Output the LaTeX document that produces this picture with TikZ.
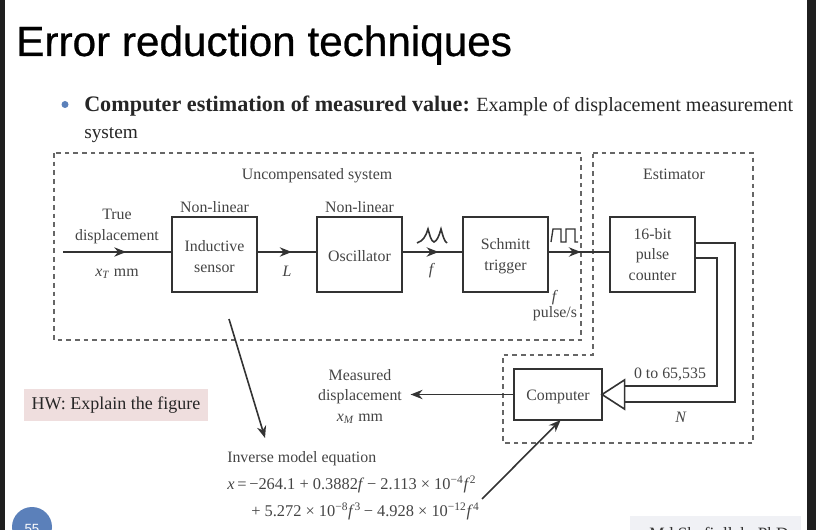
\documentclass[tikz,border=0pt]{standalone}
\usepackage{fontspec}
\setmainfont{Liberation Serif}
\newfontfamily\headfont{Liberation Sans}
\newfontfamily\titlefont[FakeBold=0.6]{Liberation Sans}
\usetikzlibrary{positioning,arrows.meta,shapes.geometric,decorations.markings}

\definecolor{inkgrey}{HTML}{333333}
\definecolor{textgrey}{HTML}{444444}
\definecolor{hwpink}{HTML}{EFDEDE}
\definecolor{slideblue}{HTML}{5B80BA}
\definecolor{footgrey}{HTML}{F0F1F5}

\newcommand{\boxstrut}{\rule{0pt}{11pt}}

\begin{document}
\begin{tikzpicture}[
		x=0.75pt,
		y=-0.75pt,
		>={Stealth[length=9pt,width=7pt]},
		every node/.style={
			font=\fontsize{11.9pt}{15.4pt}\selectfont,
			align=center,
			text=textgrey
		},
		blockbox/.style={
			draw=inkgrey,
			line width=1.4pt,
			minimum width=63.75pt,
			minimum height=56.25pt,
			inner sep=0pt,
			outer sep=0pt
		},
		flow/.style={
			draw=inkgrey,
			line width=1.2pt,
			postaction={decorate},
			decoration={markings,mark=at position #1 with {\arrow{>}}}
		},
		wire/.style={draw=inkgrey,line width=1.2pt},
		frame/.style={draw=inkgrey!75,line width=0.85pt,dash pattern=on 3.5pt off 3pt}
		]
		
		\useasboundingbox (0,0) rectangle (816,530);
		
		%--------------------------------------------------
		% Slide
		%--------------------------------------------------
		
		\fill[black!88] (0,0) rectangle (5,530);
		\fill[black!88] (807,0) rectangle (816,530);
		
		\node (title) [anchor=base west,inner sep=0pt,text=black] at (16,56)
		{\titlefont\fontsize{31.7pt}{36pt}\selectfont Error reduction techniques};
		\fill[slideblue] (65,104.5) circle (3.5);
		\node (boldline) [anchor=base west,inner sep=0pt,text=black!85] at (84,112)
		{\fontsize{16.6pt}{18pt}\selectfont\textbf{Computer estimation of measured value:}};
		\node (restline) [anchor=base west,inner sep=0pt,text=black!85] at (476,112)
		{\fontsize{15.1pt}{18pt}\selectfont Example of displacement measurement};
		\node (linetwo) [anchor=base west,inner sep=0pt,text=black!85] at (84,138.5)
		{\fontsize{14.5pt}{18pt}\selectfont system};
		
		\node (hw) [fill=hwpink,minimum width=138pt,minimum height=24pt,inner sep=0pt,text=black!85] at (116,405)
		{\fontsize{13.5pt}{16pt}\selectfont HW: Explain the figure};
		
		\begin{scope}
			\clip (0,0) rectangle (816,530);
			\fill[slideblue] (32,527) circle (20);
			\node (pageno) [text=white] at (32,529) {\headfont\fontsize{10pt}{12pt}\selectfont 55};
			\fill[footgrey] (630,516) rectangle (801,535);
			\node (footer) [anchor=base,text=black!80] at (719,539.5) {\fontsize{13pt}{15pt}\selectfont Md Shafiullah, PhD};
		\end{scope}
		
		%--------------------------------------------------
		% Dashed frames
		%--------------------------------------------------
		
		\draw[frame] (54,153) rectangle (581,340);
		\draw[frame] (593,153) -- (753,153) -- (753,443) -- (503,443) -- (503,355) -- (593,355) -- cycle;
		
		\node (uncomp) at (317,175.5) {Uncompensated system};
		\node (estim) at (674,174) {Estimator};
		
		%--------------------------------------------------
		% Blocks
		%--------------------------------------------------
		
		\node (sensor) [blockbox] at (214.5,254.5) {\boxstrut Inductive\\sensor};
		\node (osc) [blockbox,right=45pt of sensor] {\boxstrut Oscillator};
		\node (schmitt) [blockbox,right=45.75pt of osc] {\boxstrut Schmitt\\trigger};
		\node (counter) [blockbox,right=46.5pt of schmitt] {16-bit\\pulse\\counter};
		\node (computer) [blockbox,minimum width=66pt,minimum height=38.25pt] at (558,394.5) {\boxstrut Computer};
		\node (buffer) [draw=inkgrey,line width=1.2pt,isosceles triangle,isosceles triangle stretches,
			shape border rotate=180,minimum width=22pt,minimum height=17pt,inner sep=0pt,outer sep=0pt,anchor=apex]
			at (computer.east) {};
		
		\node (truein) at (117,226.5) {True\\displacement};
		\node (nlone) [above=0pt of sensor] {Non-linear};
		\node (nltwo) [above=0pt of osc] {Non-linear};
		\node (xtrue) at (117,274) {\textit{x}\textsubscript{\textit{T}} mm};
		\node (labell) at (287,271) {\textit{L}};
		\node (labelf) at (432,271) {\textit{f}};
		\node (pulses) at (555,305.5) {\textit{f}\\[-3pt]pulse/s};
		\node (busrange) at (670,374) {0 to 65,535};
		\node (busn) at (681,417) {\textit{N}};
		\node (measured) at (360,396.5) {Measured\\displacement\\\textit{x}\textsubscript{\textit{M}} mm};
		\node (model) [anchor=north west,inner sep=0pt,align=left] at (227,451)
		{Inverse model equation\\[5pt]
			\fontsize{12.3pt}{15.4pt}\selectfont\textit{x}\,=\,−264.1 + 0.3882\textit{f}\,− 2.113 × 10\textsuperscript{−4}\textit{f}\textsuperscript{2}\\[5pt]
			\fontsize{12.3pt}{15.4pt}\selectfont\hspace{18pt}+ 5.272 × 10\textsuperscript{−8}\textit{f}\textsuperscript{3}\,− 4.928 × 10\textsuperscript{−12}\textit{f}\textsuperscript{4}};
		
		%--------------------------------------------------
		% Connectors
		%--------------------------------------------------
		
		\coordinate (source) at (63,252);
		\coordinate (modeltop) at (229,319);
		\coordinate (modelend) at (265,438);
		\coordinate (eqnend) at (482,499);
		
		\draw[flow=0.58] (source) -- (sensor.west |- source);
		\draw[flow=0.58] (sensor.east |- source) -- (osc.west |- source);
		\draw[flow=0.60] (osc.east |- source) -- (schmitt.west |- source);
		\draw[flow=0.53] (schmitt.east |- source) -- (counter.west |- source);
		\draw[wire,->] (computer.west) -- ([xshift=3pt]measured.east |- computer.west);
		\draw[wire,->] (modeltop) -- (modelend);
		\draw[wire,->] (eqnend) -- ([xshift=2pt]computer.south);
		
		\draw[wire] ([yshift=8.6pt]counter.east) -| (735,300) |- ([yshift=-5.7pt]buffer.lower side);
		\draw[wire] ([yshift=-2.6pt]counter.east) -| (717,300) |- ([yshift=6.4pt]buffer.lower side);
		
		%--------------------------------------------------
		% Waveforms
		%--------------------------------------------------
		
		\draw[wire] (417,243) .. controls (423,241) and (426,236) .. (428,229)
		.. controls (430,236) and (431,241) .. (434,242)
		.. controls (437,241) and (439,236) .. (441,229)
		.. controls (443,236) and (444,241) .. (447,243);
		\draw[wire,line width=1pt] (551,242) -- (553,229) -- (561,229) -- (561,242) -- (566,242) -- (566,229) -- (575,229) -- (575,242) -- (578,242);
		
	\end{tikzpicture}
\end{document}
